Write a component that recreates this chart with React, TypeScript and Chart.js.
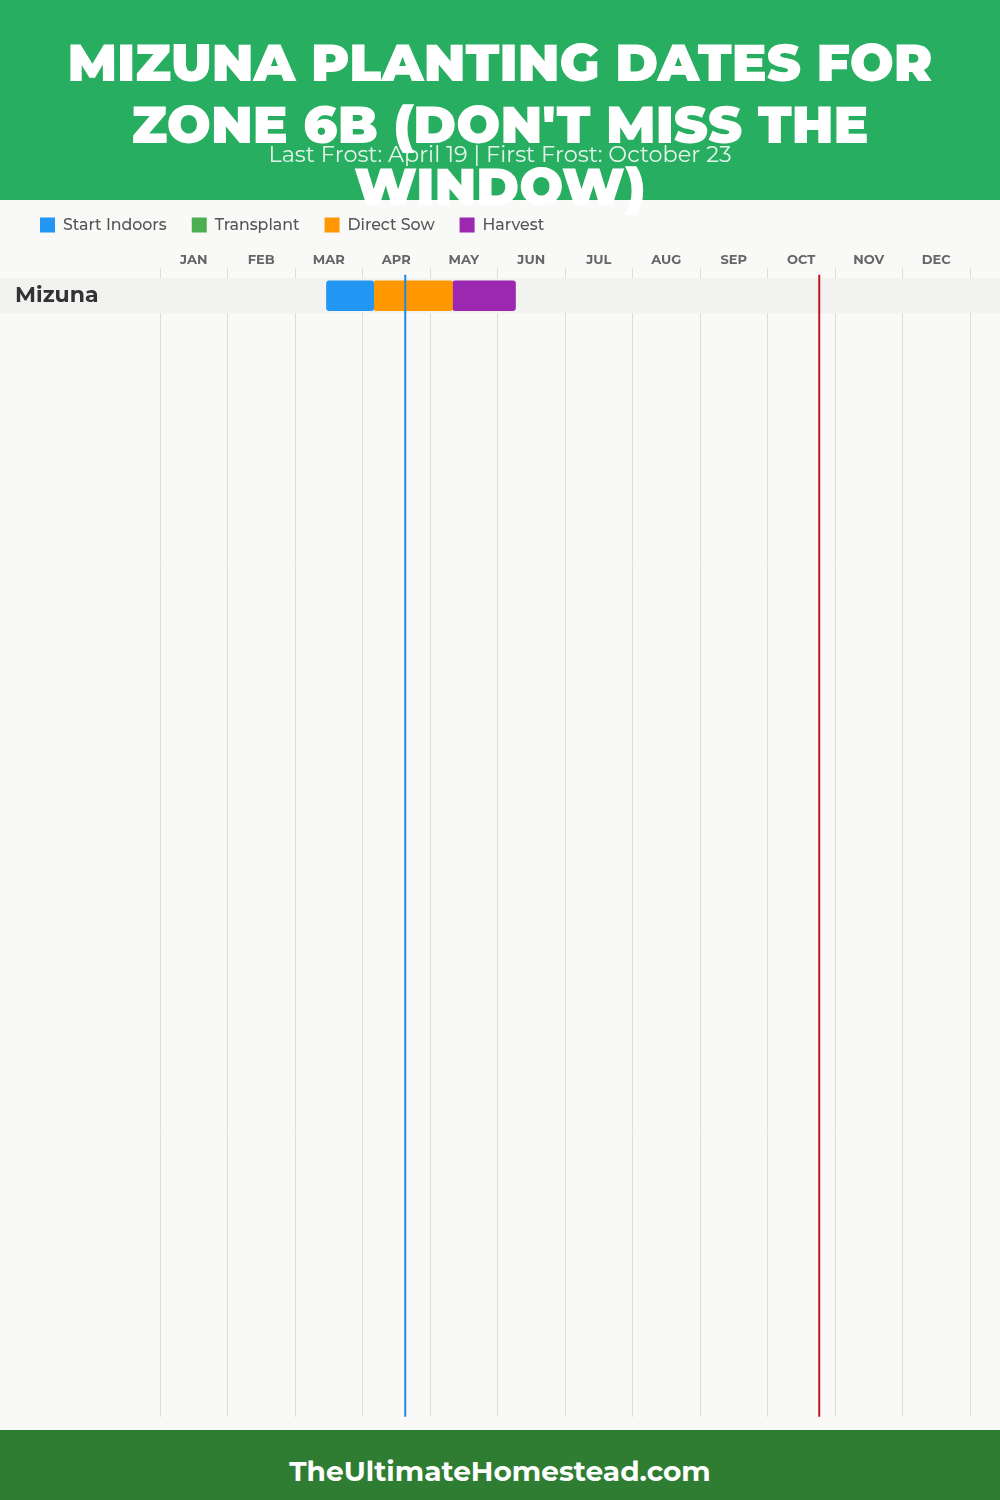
import React, { useEffect, useRef } from "react";
import { Chart, registerables } from "chart.js";

Chart.register(...registerables);

const TITLE_LINES = ["MIZUNA PLANTING DATES FOR", "ZONE 6B (DON'T MISS THE", "WINDOW)"];
const SUBTITLE = "Last Frost: April 19 | First Frost: October 23";
const FOOTER = "TheUltimateHomestead.com";

const MONTHS = ["JAN", "FEB", "MAR", "APR", "MAY", "JUN", "JUL", "AUG", "SEP", "OCT", "NOV", "DEC"];
const CROPS = ["Mizuna"];

// [from, to] as "MM-DD" per crop, null when the crop has no such phase
const START_INDOORS: (string[] | null)[] = [["03-14", "04-05"]];
const TRANSPLANT: (string[] | null)[] = [null];
const DIRECT_SOW: (string[] | null)[] = [["04-05", "05-10"]];
const HARVEST: (string[] | null)[] = [["05-10", "06-08"]];

const LAST_FROST = "04-19";
const FIRST_FROST = "10-23";

const PHASE_NAMES = ["Start Indoors", "Transplant", "Direct Sow", "Harvest"];
const PHASE_COLORS = ["#2196F3", "#4CAF50", "#FF9800", "#9C27B0"];

const FONT = "Montserrat, Inter, 'Noto Sans', sans-serif";

const toMonths = (s: string) => {
  const [m, d] = s.split("-").map(Number);
  return m - 1 + d / 30;
};

const phaseData = (rows: (string[] | null)[]) =>
  rows
    .map((r, i) => (r ? { x: [toMonths(r[0]), toMonths(r[1])], y: i + 0.5 } : null))
    .filter((v) => v !== null);

export default function App() {
  const canvasRef = useRef<HTMLCanvasElement | null>(null);

  useEffect(() => {
    document.body.style.margin = "0";
    const canvas = canvasRef.current;
    if (!canvas) return;

    const rowBand = {
      id: "rowBand",
      beforeDatasetsDraw(chart: any) {
        const y = chart.scales.y;
        const ctx = chart.ctx;
        ctx.save();
        ctx.fillStyle = "#f2f2f1";
        CROPS.forEach((_, i) => {
          const top = y.getPixelForValue(i);
          const bottom = y.getPixelForValue(i + 1);
          ctx.fillRect(0, top, chart.width, bottom - top);
        });
        ctx.restore();
      },
    };

    const frostLines = {
      id: "frostLines",
      afterDatasetsDraw(chart: any) {
        const x = chart.scales.x;
        const { top, bottom } = chart.chartArea;
        const ctx = chart.ctx;
        ctx.save();
        ctx.lineWidth = 2;
        [
          [LAST_FROST, "#1E88E5"],
          [FIRST_FROST, "#B71C1C"],
        ].forEach(([d, c]) => {
          const px = x.getPixelForValue(toMonths(d));
          ctx.strokeStyle = c;
          ctx.beginPath();
          ctx.moveTo(px, top);
          ctx.lineTo(px, bottom);
          ctx.stroke();
        });
        ctx.restore();
      },
    };

    const phases = [START_INDOORS, TRANSPLANT, DIRECT_SOW, HARVEST];

    const chart = new Chart(canvas, {
      type: "bar",
      data: {
        datasets: phases.map((rows, k) => ({
          label: PHASE_NAMES[k],
          data: phaseData(rows) as any,
          backgroundColor: PHASE_COLORS[k],
          borderColor: PHASE_COLORS[k],
          borderWidth: 0,
          borderRadius: 3,
          borderSkipped: false,
          barThickness: 30,
          grouped: false,
          xAxisID: "x",
          yAxisID: "y",
        })),
      },
      options: {
        indexAxis: "y",
        animation: false,
        responsive: false,
        devicePixelRatio: 1,
        layout: { padding: { top: 2, left: 15, right: 30, bottom: 10 } },
        plugins: {
          legend: {
            position: "top",
            align: "start",
            labels: {
              boxWidth: 15,
              boxHeight: 15,
              padding: 25,
              color: "#555555",
              font: { family: FONT, size: 15.8, weight: 500 },
            },
          },
          tooltip: { enabled: false },
        },
        scales: {
          months: {
            type: "category",
            labels: MONTHS,
            position: "top",
            offset: true,
            afterFit: (s: any) => {
              s.height = 32;
            },
            grid: { offset: true, color: "#dddddd", lineWidth: 1, tickLength: 7, drawTicks: true },
            border: { display: false },
            ticks: {
              color: "#666666",
              padding: 0,
              font: { family: FONT, size: 13, weight: "bold" },
              maxRotation: 0,
              autoSkip: false,
            },
          },
          x: {
            type: "linear",
            min: 0,
            max: 12,
            display: false,
          },
          y: {
            type: "linear",
            reverse: true,
            offset: false,
            min: -0.1,
            max: 32.6,
            afterBuildTicks: (s: any) => {
              s.ticks = CROPS.map((_, i) => ({ value: i + 0.5 }));
            },
            afterFit: (s: any) => {
              s.width = 145;
            },
            grid: { display: false, offset: false },
            border: { display: false },
            ticks: {
              z: 1,
              crossAlign: "far",
              padding: 0,
              color: "#333333",
              font: { family: FONT, size: 22, weight: "bold" },
              callback: (v: any) => CROPS[Math.floor(Number(v))] ?? "",
            },
          },
        },
      } as any,
      plugins: [rowBand, frostLines],
    });

    return () => chart.destroy();
  }, []);

  return (
    <div style={{ position: "relative", width: 1000, height: 1500, background: "#f9f9f8", overflow: "hidden" }}>
      <div style={{ position: "absolute", left: 0, top: 190, width: 1000, height: 1240, zIndex: 1 }}>
        <canvas ref={canvasRef} width={1000} height={1240} style={{ display: "block" }} />
      </div>
      <div
        style={{
          position: "absolute",
          left: 0,
          top: 0,
          width: 1000,
          height: 200,
          background: "#27ae60",
          zIndex: 2,
          fontFamily: FONT,
        }}
      >
        <div
          style={{
            position: "absolute",
            left: 0,
            top: 32,
            width: 1000,
            textAlign: "center",
            color: "#ffffff",
            fontWeight: 900,
            fontSize: 52,
            lineHeight: "62px",
          }}
        >
          {TITLE_LINES.map((l, i) => (
            <div key={i}>{l}</div>
          ))}
        </div>
        <div
          style={{
            position: "absolute",
            left: 0,
            top: 140,
            width: 1000,
            textAlign: "center",
            color: "rgba(255,255,255,0.88)",
            fontSize: 22.4,
            lineHeight: "28px",
          }}
        >
          {SUBTITLE}
        </div>
      </div>
      <div
        style={{
          position: "absolute",
          left: 0,
          top: 1430,
          width: 1000,
          height: 70,
          background: "#2e7d32",
          color: "#ffffff",
          zIndex: 2,
          textAlign: "center",
          fontFamily: FONT,
          fontWeight: "bold",
          fontSize: 28,
          lineHeight: "70px",
          paddingTop: 6,
          boxSizing: "border-box",
        }}
      >
        {FOOTER}
      </div>
    </div>
  );
}
